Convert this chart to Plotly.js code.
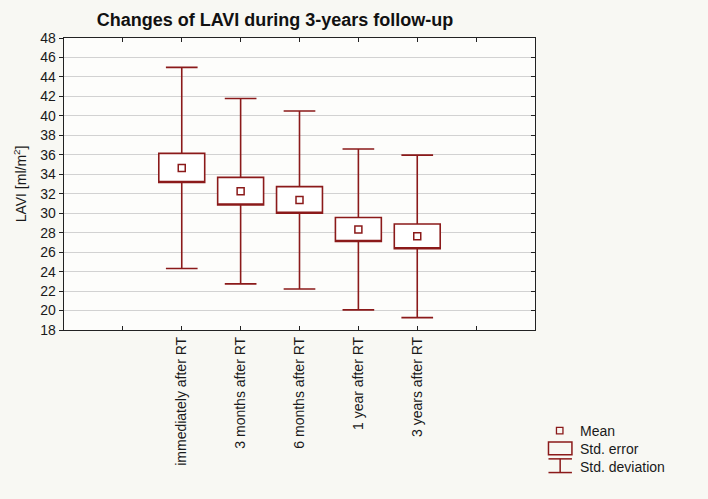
<!DOCTYPE html>
<html>
<head>
<meta charset="utf-8">
<script src="https://cdn.plot.ly/plotly-3.0.1.min.js"></script>
<style>html,body{margin:0;padding:0;background:#f8f8f3;}#chart{width:708px;height:499px;}</style>
</head>
<body>
<div id="chart"></div>
<script>
// Data
var categories = ['immediately after RT', '3 months after RT', '6 months after RT', '1 year after RT', '3 years after RT'];
var meanVals = [34.65, 32.26, 31.36, 28.33, 27.62];
var seVals = [1.50, 1.42, 1.37, 1.23, 1.27];
var sdVals = [10.33, 9.52, 9.14, 8.26, 8.35];
var yTicks = [18, 20, 22, 24, 26, 28, 30, 32, 34, 36, 38, 40, 42, 44, 46, 48];

var RED = '#8b1a1a';
var pos = categories.map(function (c, i) { return i + 2; });
var tickPos = [1, 2, 3, 4, 5, 6, 7];

var q1 = meanVals.map(function (m, i) { return m - seVals[i]; });
var q3 = meanVals.map(function (m, i) { return m + seVals[i]; });
var lo = meanVals.map(function (m, i) { return m - sdVals[i]; });
var hi = meanVals.map(function (m, i) { return m + sdVals[i]; });

var boxTrace = {
  type: 'box', x: pos, q1: q1, median: q1, q3: q3, lowerfence: lo, upperfence: hi,
  width: 0.78, whiskerwidth: 0.69, boxpoints: false,
  line: {color: RED, width: 1.6}, fillcolor: '#ffffff',
  showlegend: false, hoverinfo: 'skip', xaxis: 'x', yaxis: 'y'
};
var meanTrace = {
  type: 'scatter', mode: 'markers', x: pos, y: meanVals,
  marker: {symbol: 'square-open', size: 7, color: RED, line: {width: 1.5, color: RED}},
  showlegend: false, xaxis: 'x', yaxis: 'y'
};
var dummyRight = {type: 'scatter', x: [0], y: [18], mode: 'none', showlegend: false, xaxis: 'x', yaxis: 'y2', hoverinfo: 'skip'};
var dummyTop = {type: 'scatter', x: [0], y: [18], mode: 'none', showlegend: false, xaxis: 'x2', yaxis: 'y', hoverinfo: 'skip'};

var FONT = 'Liberation Sans, Arial, sans-serif';
var L = 63.7, T = 37.7, R = 535.5, B = 330;
function px2x(px) { return (px - L) / (R - L); }
function px2y(py) { return (B - py) / (B - T); }

var shapes = [
  {type: 'rect', xref: 'paper', yref: 'paper', x0: px2x(557), x1: px2x(563.5), y0: px2y(434), y1: px2y(427.5), line: {color: RED, width: 1.3}},
  {type: 'rect', xref: 'paper', yref: 'paper', x0: px2x(549), x1: px2x(572.5), y0: px2y(455), y1: px2y(442), line: {color: RED, width: 1.5}},
  {type: 'line', xref: 'paper', yref: 'paper', x0: px2x(549), x1: px2x(572.5), y0: px2y(459), y1: px2y(459), line: {color: RED, width: 1.5}},
  {type: 'line', xref: 'paper', yref: 'paper', x0: px2x(560.7), x1: px2x(560.7), y0: px2y(459), y1: px2y(472.7), line: {color: RED, width: 1.5}},
  {type: 'line', xref: 'paper', yref: 'paper', x0: px2x(549), x1: px2x(572.5), y0: px2y(472.7), y1: px2y(472.7), line: {color: RED, width: 1.5}}
];
var legendItems = [['Mean', 431.5], ['Std. error', 449], ['Std. deviation', 467]];
var annotations = legendItems.map(function (it) {
  return {xref: 'paper', yref: 'paper', x: px2x(579), y: px2y(it[1]), xanchor: 'left', yanchor: 'middle',
    text: it[0], showarrow: false, font: {family: FONT, size: 14, color: '#1a1a1a'}};
});

var layout = {
  width: 708, height: 499,
  paper_bgcolor: '#f8f8f3', plot_bgcolor: '#fdfdfb',
  margin: {l: L, r: 708 - R, t: T, b: 499 - B, pad: 0},
  title: {text: '<b>Changes of LAVI during 3-years follow-up</b>', x: 275 / 708, xanchor: 'center', xref: 'container',
    y: 1 - 19.5 / 499, yanchor: 'middle', yref: 'container', font: {family: FONT, size: 18, color: '#111'}},
  showlegend: false,
  xaxis: {range: [0, 8], tickvals: pos, ticktext: categories, tickangle: -90, ticks: '',
    showline: true, linecolor: '#222', linewidth: 1.3, mirror: true, showgrid: false,
    zeroline: false, tickfont: {family: FONT, size: 14, color: '#1a1a1a'}, fixedrange: true},
  xaxis2: {range: [0, 8], overlaying: 'x', side: 'bottom', tickvals: tickPos, ticks: 'inside', ticklen: 4,
    tickcolor: '#222', showline: true, linecolor: '#222', linewidth: 1.3, mirror: 'ticks', showgrid: false,
    zeroline: false, showticklabels: false},
  yaxis: {range: [18, 48], tickvals: yTicks, ticks: 'outside', ticklen: 4, tickcolor: '#222',
    showline: true, linecolor: '#222', linewidth: 1.3, showgrid: true, gridcolor: '#d2d2d2', gridwidth: 1,
    zeroline: false, tickfont: {family: FONT, size: 14, color: '#1a1a1a'},
    title: {text: 'LAVI [ml/m<sup>2</sup>]', font: {family: FONT, size: 14, color: '#1a1a1a'}, standoff: 10}},
  yaxis2: {range: [18, 48], overlaying: 'y', side: 'right', tickvals: yTicks, ticks: 'inside', ticklen: 4,
    tickcolor: '#222', showline: true, linecolor: '#222', linewidth: 1.3, showgrid: false, zeroline: false,
    showticklabels: false},
  shapes: shapes,
  annotations: annotations
};

Plotly.newPlot('chart', [boxTrace, meanTrace, dummyRight, dummyTop], layout, {displayModeBar: false, staticPlot: true});
</script>
</body>
</html>
